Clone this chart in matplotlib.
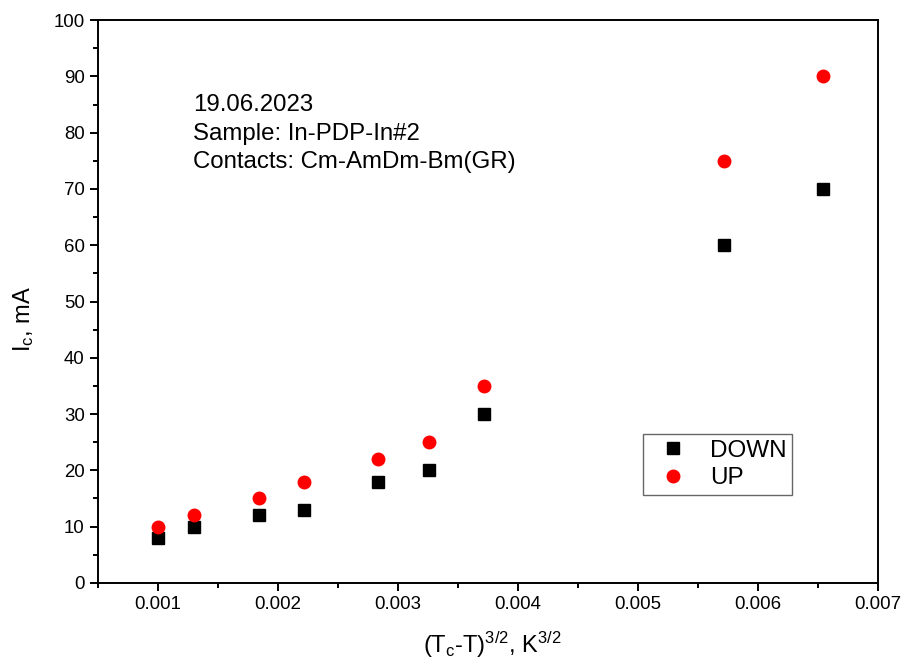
import matplotlib
matplotlib.use("Agg")
import matplotlib.pyplot as plt
from matplotlib.ticker import MultipleLocator

plt.rcParams["font.family"] = ["Liberation Sans", "DejaVu Sans"]
plt.rcParams["mathtext.fontset"] = "custom"
plt.rcParams["mathtext.rm"] = "Liberation Sans"
plt.rcParams["mathtext.it"] = "Liberation Sans"

# data
x_down = [0.001, 0.0013, 0.00184, 0.00222, 0.00283, 0.00326, 0.00372, 0.00572, 0.00654]
ic_down = [8, 10, 12, 13, 18, 20, 30, 60, 70]
x_up = [0.001, 0.0013, 0.00184, 0.00222, 0.00283, 0.00326, 0.00372, 0.00572, 0.00654]
ic_up = [10, 12, 15, 18, 22, 25, 35, 75, 90]

info_lines = ["19.06.2023", "Sample: In-PDP-In#2", "Contacts: Cm-AmDm-Bm(GR)"]

fig = plt.figure(figsize=(9.08, 6.70), dpi=100)
ax = fig.add_axes([0.108, 0.130, 0.859, 0.840])

ax.plot(x_down, ic_down, linestyle="none", marker="s", markersize=8,
        color="black", label="DOWN")
ax.plot(x_up, ic_up, linestyle="none", marker="o", markersize=9,
        color="red", label="UP")

ax.set_xlim(0.0005, 0.007)
ax.set_ylim(0, 100)
ax.xaxis.set_minor_locator(MultipleLocator(0.0005))
ax.yaxis.set_major_locator(MultipleLocator(10))
ax.yaxis.set_minor_locator(MultipleLocator(5))
ax.set_xticks([0.001, 0.002, 0.003, 0.004, 0.005, 0.006, 0.007])
ax.set_xticklabels(["0.001", "0.002", "0.003", "0.004", "0.005", "0.006", "0.007"])

for s in ax.spines.values():
    s.set_linewidth(1.4)
ax.tick_params(which="major", direction="out", length=6, width=1.4,
               labelsize=13.4, top=False, right=False)
ax.tick_params(which="minor", direction="out", length=3.5, width=1.4,
               top=False, right=False)

ax.set_xlabel(r"(T$_\mathregular{c}$-T)$^\mathregular{3/2}$, K$^\mathregular{3/2}$",
              fontsize=17, labelpad=12)
ax.xaxis.set_label_coords(0.506, -0.083)
ax.set_ylabel(r"I$_\mathregular{c}$, mA", fontsize=17)
ax.yaxis.set_label_coords(-0.079, 0.469)

ax.text(0.00129, 86.8, "\n".join(info_lines), fontsize=17.3, linespacing=1.38,
        va="top", ha="left")

leg = ax.legend(loc="lower left", bbox_to_anchor=(0.683, 0.134), fontsize=17.5,
                frameon=True, fancybox=False, edgecolor="#404040",
                handletextpad=0.5, borderpad=0.25, labelspacing=0.22)
leg.get_frame().set_linewidth(1.0)

fig.savefig("out.png", dpi=100)
